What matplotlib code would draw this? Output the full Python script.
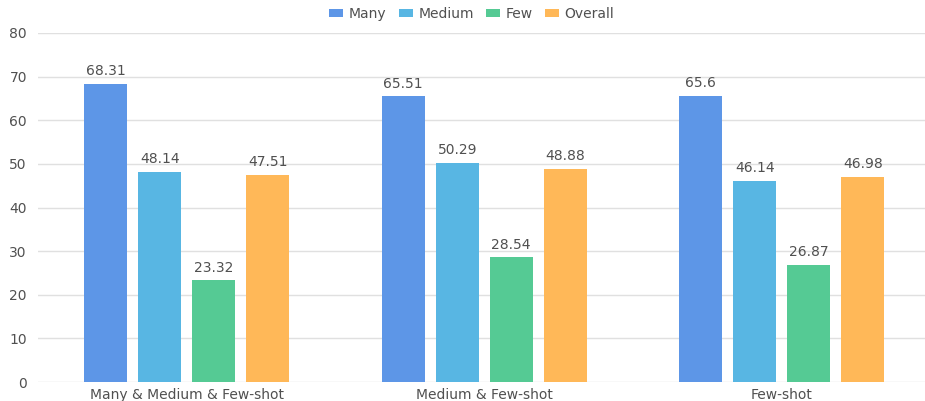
import matplotlib
matplotlib.use("Agg")
import matplotlib.pyplot as plt
import numpy as np
from matplotlib.patches import Patch

categories = ["Many & Medium & Few-shot", "Medium & Few-shot", "Few-shot"]
series_names = ["Many", "Medium", "Few", "Overall"]
many = [68.31, 65.51, 65.6]
medium = [48.14, 50.29, 46.14]
few = [23.32, 28.54, 26.87]
overall = [47.51, 48.88, 46.98]
value_labels = [["68.31", "65.51", "65.6"],
                ["48.14", "50.29", "46.14"],
                ["23.32", "28.54", "26.87"],
                ["47.51", "48.88", "46.98"]]
colors = ["#5D96E7", "#58B6E3", "#55CA94", "#FFB858"]

plt.rcParams["font.family"] = ["DejaVu Sans"]
text_color = "#505050"
fs = 10

fig = plt.figure(figsize=(9.25, 4.01), dpi=100)
ax = fig.add_axes([38 / 925, 19 / 401, 892.5 / 925, 349 / 401])

x = np.arange(len(categories))
width = 0.145
step = 0.1815
offsets = (np.arange(4) - 1.5) * step
for i, vals in enumerate([many, medium, few, overall]):
    bars = ax.bar(x + offsets[i], vals, width, color=colors[i], zorder=3)
    for b, lab in zip(bars, value_labels[i]):
        ax.annotate(lab, (b.get_x() + b.get_width() / 2, b.get_height()),
                    xytext=(0, 4), textcoords="offset points",
                    ha="center", va="bottom", fontsize=fs, color=text_color)

ax.set_xlim(-0.5, 2.5)
ax.set_ylim(0, 80)
ax.set_yticks(range(0, 81, 10))
ax.set_xticks(x)
ax.set_xticklabels(categories)
ax.tick_params(axis="both", length=0, labelsize=fs, labelcolor=text_color)
ax.tick_params(axis="x", pad=4)
ax.tick_params(axis="y", pad=8)
ax.grid(axis="y", color="#E0E0E0", linewidth=1, zorder=0)
for s in ax.spines.values():
    s.set_visible(False)

handles = [Patch(facecolor=c, edgecolor="none") for c in colors]
fig.legend(handles, series_names, loc="center", bbox_to_anchor=(0.51, 1 - 14 / 401),
           ncol=4, frameon=False, fontsize=fs, handlelength=1.0, handleheight=0.5,
           handletextpad=0.4, columnspacing=0.9, labelcolor=text_color)

fig.savefig("out.png", dpi=100, facecolor="white")
